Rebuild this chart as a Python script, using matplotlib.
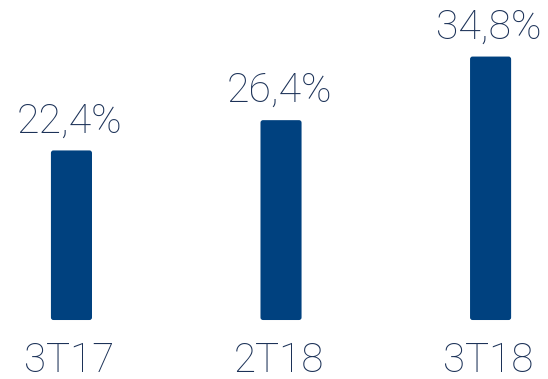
import matplotlib
matplotlib.use('Agg')
import matplotlib.pyplot as plt
from matplotlib.patches import FancyBboxPatch

trimestres = ['3T17', '2T18', '3T18']
valores = [22.4, 26.4, 34.8]
rotulos = ['22,4%', '26,4%', '34,8%']

cor_barra = '#00417f'
cor_texto = '#1c3258'

fig = plt.figure(figsize=(5.48, 3.79), dpi=100)
ax = fig.add_axes([0, 0, 1, 1])
ax.set_xlim(-0.341, 2.274)
ax.set_ylim(-7.79, 42.27)
ax.axis('off')

largura = 0.196
barras = ax.bar(range(len(valores)), valores, width=largura, color='none')
for b in barras:
    # troca o retangulo por um com cantos levemente arredondados
    p = FancyBboxPatch((b.get_x(), b.get_y()), b.get_width(), b.get_height(),
                       boxstyle='round,pad=0,rounding_size=0.012',
                       mutation_aspect=28, color=cor_barra, lw=0)
    ax.add_patch(p)

for i, v in enumerate(valores):
    ax.text(i - 0.01, v + 2.4, rotulos[i], ha='center', va='baseline',
            fontsize=29.5, family='Roboto', weight='light', color=cor_texto)
    ax.text(i - 0.01, -6.9, trimestres[i], ha='center', va='baseline',
            fontsize=29, family='Roboto', weight='light', color=cor_texto)

fig.savefig('out.png', dpi=100)
